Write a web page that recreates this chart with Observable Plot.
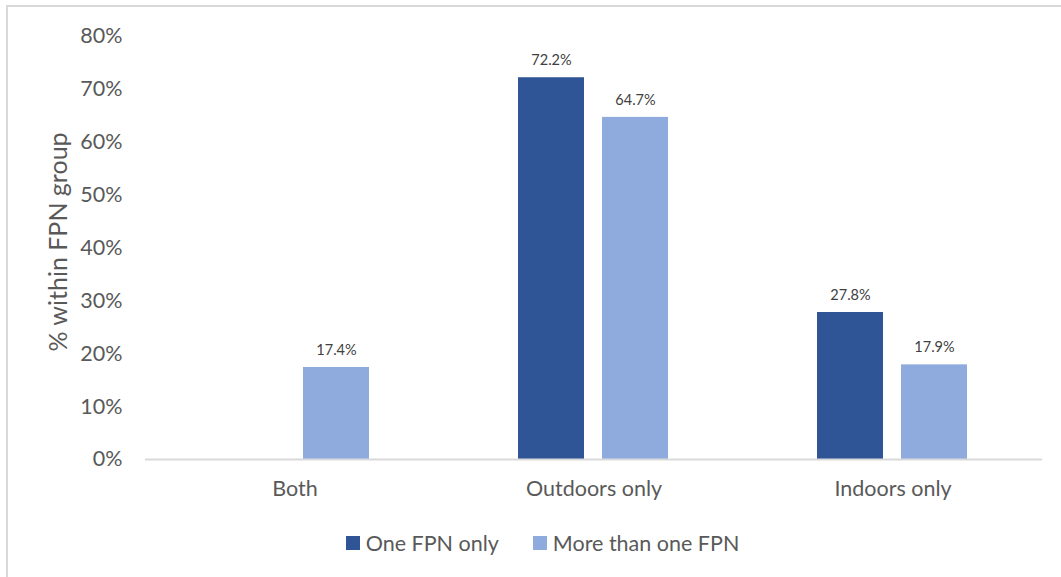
<!DOCTYPE html>
<html>
<head>
<meta charset="utf-8">
<script src="https://cdn.jsdelivr.net/npm/d3@7"></script>
<script src="https://cdn.jsdelivr.net/npm/@observablehq/plot@0.6"></script>
<style>
  html, body { margin: 0; padding: 0; background: #fff; }
  body { width: 1061px; height: 577px; position: relative; overflow: hidden; font-family: Lato, "Open Sans", sans-serif; }
  #frame { position: absolute; left: 6px; top: 5px; width: 1100px; height: 700px; border-left: 2px solid #D9D9D9; border-top: 2px solid #D9D9D9; box-sizing: border-box; }
  #chart { position: absolute; left: 0; top: 0; }
  #legend { position: absolute; left: 0; top: 530px; width: 1061px; display: flex; justify-content: center; gap: 34px; font-size: 21.5px; color: #595959; padding-left: 24px; box-sizing: border-box; }
  .item { display: flex; align-items: center; }
  .sw { width: 14px; height: 14px; margin-right: 6px; display: inline-block; }
  #ylabel { position: absolute; left: 57px; top: 242px; transform: translate(-50%, -50%) rotate(-90deg); white-space: nowrap; font-size: 25px; color: #595959; }
</style>
</head>
<body>
<div id="frame"></div>
<div id="chart"></div>
<div id="ylabel">% within FPN group</div>
<div id="legend"></div>
<script>
const categories = ["Both", "Outdoors only", "Indoors only"];
const seriesNames = ["One FPN only", "More than one FPN"];
const oneFPN = [null, 72.2, 27.8];
const moreFPN = [17.4, 64.7, 17.9];
const yTicks = [0, 10, 20, 30, 40, 50, 60, 70, 80];
const colors = ["#2F5597", "#8FAADC"];

const data = [];
categories.forEach((c, i) => {
  data.push({category: c, series: seriesNames[0], value: oneFPN[i]});
  data.push({category: c, series: seriesNames[1], value: moreFPN[i]});
});
const shown = data.filter(d => d.value != null);

const chart = Plot.plot({
  width: 1061,
  height: 520,
  marginLeft: 144,
  marginRight: 18,
  marginTop: 36,
  marginBottom: 61,
  style: {fontFamily: "Lato, 'Open Sans', sans-serif", color: "#595959", background: "transparent"},
  fx: {domain: categories, padding: 0, label: null, axis: null},
  x: {domain: seriesNames, paddingInner: 0.2118, paddingOuter: 0.869, axis: null},
  y: {domain: [0, 80], ticks: yTicks, axis: null},
  color: {domain: seriesNames, range: colors},
  marks: [
    Plot.axisY({ticks: yTicks, tickSize: 0, tickPadding: 23, tickFormat: d => d + "%", label: null, fontSize: 21.5, facetAnchor: "left"}),
    Plot.axisFx({anchor: "bottom", tickSize: 0, tickPadding: 21, label: null, fontSize: 21.5}),
    Plot.barY(shown, {fx: "category", x: "series", y: "value", fill: "series"}),
    Plot.ruleY([0], {stroke: "#D9D9D9", strokeWidth: 2}),
    Plot.text(shown, {fx: "category", x: "series", y: "value", text: d => d.value.toFixed(1) + "%", dy: -17, fill: "#404040", fontSize: 14.5})
  ]
});
document.getElementById("chart").appendChild(chart);

const legend = document.getElementById("legend");
seriesNames.forEach((s, i) => {
  const item = document.createElement("div");
  item.className = "item";
  const sw = document.createElement("span");
  sw.className = "sw";
  sw.style.background = colors[i];
  const t = document.createElement("span");
  t.textContent = s;
  item.appendChild(sw);
  item.appendChild(t);
  legend.appendChild(item);
});
</script>
</body>
</html>
